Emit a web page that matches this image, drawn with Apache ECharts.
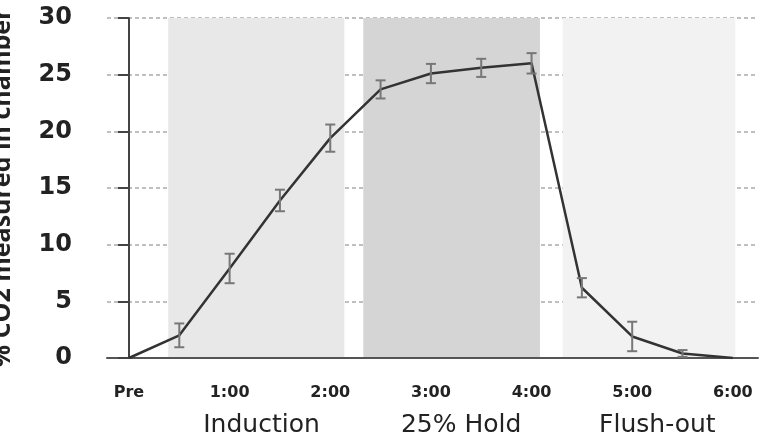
<!DOCTYPE html>
<html>
<head>
<meta charset="utf-8">
<script src="https://cdn.jsdelivr.net/npm/echarts@6/dist/echarts.min.js"></script>
<style>html,body{margin:0;padding:0;background:#fff}#c{width:762px;height:437px}</style>
</head>
<body>
<div id="c"></div>
<script>
// time in minutes after start
var times = [0, 30, 60, 90, 120, 150, 180, 210, 240, 270, 300, 330, 360];
var co2 = [0, 2.0, 7.9, 13.9, 19.4, 23.7, 25.1, 25.6, 26.0, 6.2, 1.9, 0.4, 0];
var err = [0, 1.05, 1.3, 0.95, 1.2, 0.8, 0.85, 0.8, 0.9, 0.85, 1.3, 0.3, 0];
var tickValues = [0, 60, 120, 180, 240, 300, 360];
var tickLabels = ['Pre', '1:00', '2:00', '3:00', '4:00', '5:00', '6:00'];
var phaseNames = ['Induction', '25% Hold', 'Flush-out'];
var phaseStart = [23.4, 139.7, 258.6];
var phaseEnd = [128.4, 245, 361.5];
var phaseLabelPos = [79, 198, 315];
var phaseColors = ['#e8e8e8', '#d5d5d5', '#f2f2f2'];

var FONT = 'DejaVu Sans';
var lineData = times.map(function (t, i) { return [t, co2[i]]; });
var errData = [];
times.forEach(function (t, i) { if (err[i] > 0) errData.push([t, co2[i] - err[i], co2[i] + err[i]]); });
var areas = phaseNames.map(function (n, i) {
  return [{ xAxis: phaseStart[i], itemStyle: { color: phaseColors[i] } }, { xAxis: phaseEnd[i] }];
});

var chart = echarts.init(document.getElementById('c'));
chart.setOption({
  animation: false,
  grid: { left: 107, right: 4, top: 18, bottom: 79, containLabel: false, outerBoundsMode: 'none' },
  xAxis: [{
    type: 'value', min: -13.1, max: 375,
    axisLine: { show: true, onZero: false, lineStyle: { color: '#555', width: 2 } },
    axisTick: { show: false },
    splitLine: { show: false },
    axisLabel: {
      customValues: tickValues, margin: 27,
      fontFamily: FONT, fontWeight: 'bold', fontSize: 16, color: '#222',
      formatter: function (v) { var k = tickValues.indexOf(v); return k >= 0 ? tickLabels[k] : ''; }
    }
  }, {
    type: 'value', min: -13.1, max: 375, position: 'bottom',
    axisLine: { show: false }, axisTick: { show: false }, splitLine: { show: false },
    axisLabel: {
      customValues: phaseLabelPos, margin: 55,
      fontFamily: FONT, fontSize: 25, color: '#222',
      formatter: function (v) { var k = phaseLabelPos.indexOf(v); return k >= 0 ? phaseNames[k] : ''; }
    }
  }],
  yAxis: {
    type: 'value', min: 0, max: 30, interval: 5,
    name: '% CO2 measured in chamber', nameLocation: 'middle', nameGap: 92,
    nameTextStyle: { fontFamily: 'Open Sans', fontWeight: 'bold', fontSize: 25, color: '#222' },
    axisLine: { show: true, lineStyle: { color: '#444', width: 2 } },
    axisTick: { show: true, length: 11, lineStyle: { color: '#444', width: 2 } },
    axisLabel: { margin: 35, fontFamily: FONT, fontWeight: 'bold', fontSize: 24, color: '#222' },
    splitLine: { show: true, lineStyle: { color: '#aaa', type: [4, 3], width: 1.5 } }
  },
  series: [{
    type: 'line', data: lineData, symbol: 'none', z: 3,
    lineStyle: { color: '#333', width: 2.5 },
    markArea: { silent: true, data: areas, z: 0 }
  }, {
    type: 'custom', data: errData, z: 4,
    renderItem: function (params, api) {
      var x = api.value(0);
      var lo = api.coord([x, api.value(1)]);
      var hi = api.coord([x, api.value(2)]);
      var w = 5;
      var st = { stroke: '#777', lineWidth: 2, fill: null };
      return { type: 'group', children: [
        { type: 'line', shape: { x1: lo[0], y1: lo[1], x2: hi[0], y2: hi[1] }, style: st },
        { type: 'line', shape: { x1: lo[0] - w, y1: lo[1], x2: lo[0] + w, y2: lo[1] }, style: st },
        { type: 'line', shape: { x1: hi[0] - w, y1: hi[1], x2: hi[0] + w, y2: hi[1] }, style: st }
      ]};
    }
  }]
});
</script>
</body>
</html>
